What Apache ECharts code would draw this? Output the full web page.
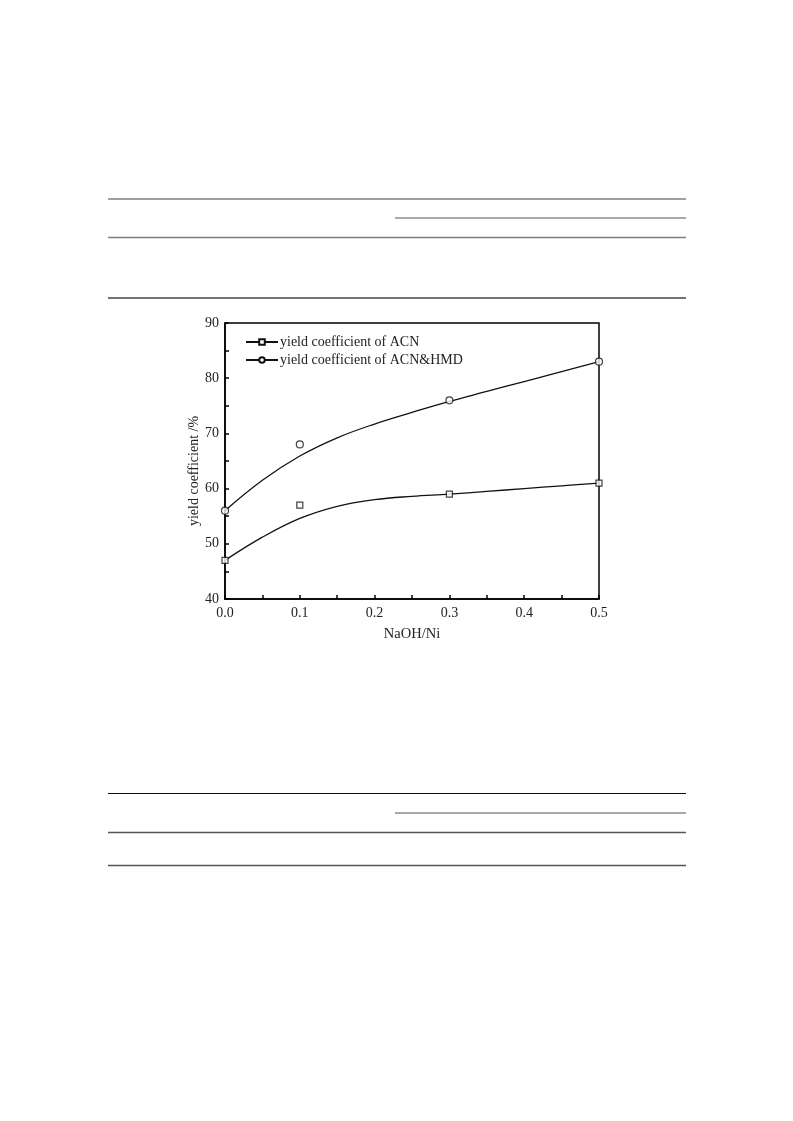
<!DOCTYPE html>
<html>
<head>
<meta charset="utf-8">
<script src="https://cdn.jsdelivr.net/npm/echarts@6/dist/echarts.min.js"></script>
<style>
html,body{margin:0;padding:0;background:#fff;}
#c{width:793px;height:1121px;}
</style>
</head>
<body>
<div id="c"></div>
<script>
// measured points
const ratioMeasured = [0.0, 0.1, 0.3, 0.5];
const acnMeasured = [47, 57, 59, 61];
const acnHmdMeasured = [56, 68, 76, 83];
// fitted curves
const ratioFit = [0.0, 0.05, 0.1, 0.15, 0.2, 0.25, 0.3, 0.35, 0.4, 0.45, 0.5];
const acnFit = [47.0, 51.2, 54.6, 56.8, 58.0, 58.6, 59.0, 59.5, 60.0, 60.5, 61.0];
const acnHmdFit = [56.0, 61.5, 65.9, 69.2, 71.7, 73.8, 75.8, 77.6, 79.4, 81.2, 83.0];
const seriesNames = ['yield coefficient of ACN', 'yield coefficient of ACN&HMD'];
const xTickLabels = ['0.0', '0.1', '0.2', '0.3', '0.4', '0.5'];
const yTickLabels = ['40', '50', '60', '70', '80', '90'];

const pair = (xs, ys) => xs.map((x, i) => [x, ys[i]]);
const font = 'Liberation Serif, Times New Roman, serif';

const chart = echarts.init(document.getElementById('c'), null, {renderer: 'canvas'});

function hline(x1, x2, y, color, w) {
  return {type: 'line', shape: {x1: x1, y1: y, x2: x2, y2: y}, style: {stroke: color, lineWidth: w}, silent: true};
}

chart.setOption({
  animation: false,
  backgroundColor: '#fff',
  graphic: [
    hline(108, 686, 199, '#7f7f7f', 1.5),
    hline(395, 686, 218, '#555', 1.2),
    hline(108, 686, 237.5, '#7f7f7f', 1.5),
    hline(108, 686, 298, '#444', 1.5),
    hline(108, 686, 793.5, '#111', 1.2),
    hline(395, 686, 813, '#555', 1.2),
    hline(108, 686, 832.5, '#555', 1.3),
    hline(108, 686, 865.5, '#555', 1.3)
  ],
  grid: {left: 225, top: 323, width: 374, height: 276, show: true, borderColor: '#000', borderWidth: 1.5, containLabel: false},
  legend: {
    left: 240, top: 330, orient: 'vertical', itemGap: 4, itemWidth: 32, itemHeight: 7,
    data: seriesNames,
    textStyle: {fontFamily: font, fontSize: 14, color: '#222', padding: [0, 0, 0, -3]}
  },
  xAxis: {
    type: 'value', min: 0, max: 0.5, interval: 0.1,
    axisLine: {lineStyle: {color: '#000', width: 1.5}},
    axisTick: {inside: true, length: 4, lineStyle: {color: '#000', width: 1.5}},
    minorTick: {show: true, splitNumber: 2, length: 4, lineStyle: {color: '#000', width: 1.5}},
    splitLine: {show: false},
    axisLabel: {margin: 7, fontFamily: font, fontSize: 14, color: '#222',
      formatter: v => xTickLabels[Math.round(v * 10)]},
    name: 'NaOH/Ni', nameLocation: 'middle', nameGap: 28,
    nameTextStyle: {fontFamily: font, fontSize: 14.5, color: '#222'}
  },
  yAxis: {
    type: 'value', min: 40, max: 90, interval: 10,
    axisLine: {lineStyle: {color: '#000', width: 1.5}},
    axisTick: {inside: true, length: 4, lineStyle: {color: '#000', width: 1.5}},
    minorTick: {show: true, splitNumber: 2, length: 4, lineStyle: {color: '#000', width: 1.5}},
    splitLine: {show: false},
    axisLabel: {margin: 6, fontFamily: font, fontSize: 14, color: '#222',
      formatter: v => yTickLabels[Math.round((v - 40) / 10)]},
    name: 'yield coefficient /%', nameLocation: 'middle', nameGap: 23,
    nameTextStyle: {fontFamily: font, fontSize: 14, color: '#222', padding: [0, 0, 0, -20]}
  },
  series: [
    {
      name: seriesNames[0], type: 'line', smooth: 0.4,
      data: pair(ratioFit, acnFit),
      showSymbol: false, symbol: 'emptyRect', symbolSize: 6,
      lineStyle: {color: '#111', width: 1.3}, itemStyle: {color: '#111', borderWidth: 1.2}
    },
    {
      name: seriesNames[1], type: 'line', smooth: 0.4,
      data: pair(ratioFit, acnHmdFit),
      showSymbol: false, symbol: 'emptyCircle', symbolSize: 6,
      lineStyle: {color: '#111', width: 1.3}, itemStyle: {color: '#111', borderWidth: 1.2}
    },
    {
      name: 'acn points', type: 'scatter', symbol: 'rect', symbolSize: 6,
      data: pair(ratioMeasured, acnMeasured),
      itemStyle: {color: '#fff', borderColor: '#111', borderWidth: 1.2}, z: 5
    },
    {
      name: 'acnhmd points', type: 'scatter', symbol: 'circle', symbolSize: 7,
      data: pair(ratioMeasured, acnHmdMeasured),
      itemStyle: {color: '#fff', borderColor: '#111', borderWidth: 1.2}, z: 5
    }
  ]
});
</script>
</body>
</html>
